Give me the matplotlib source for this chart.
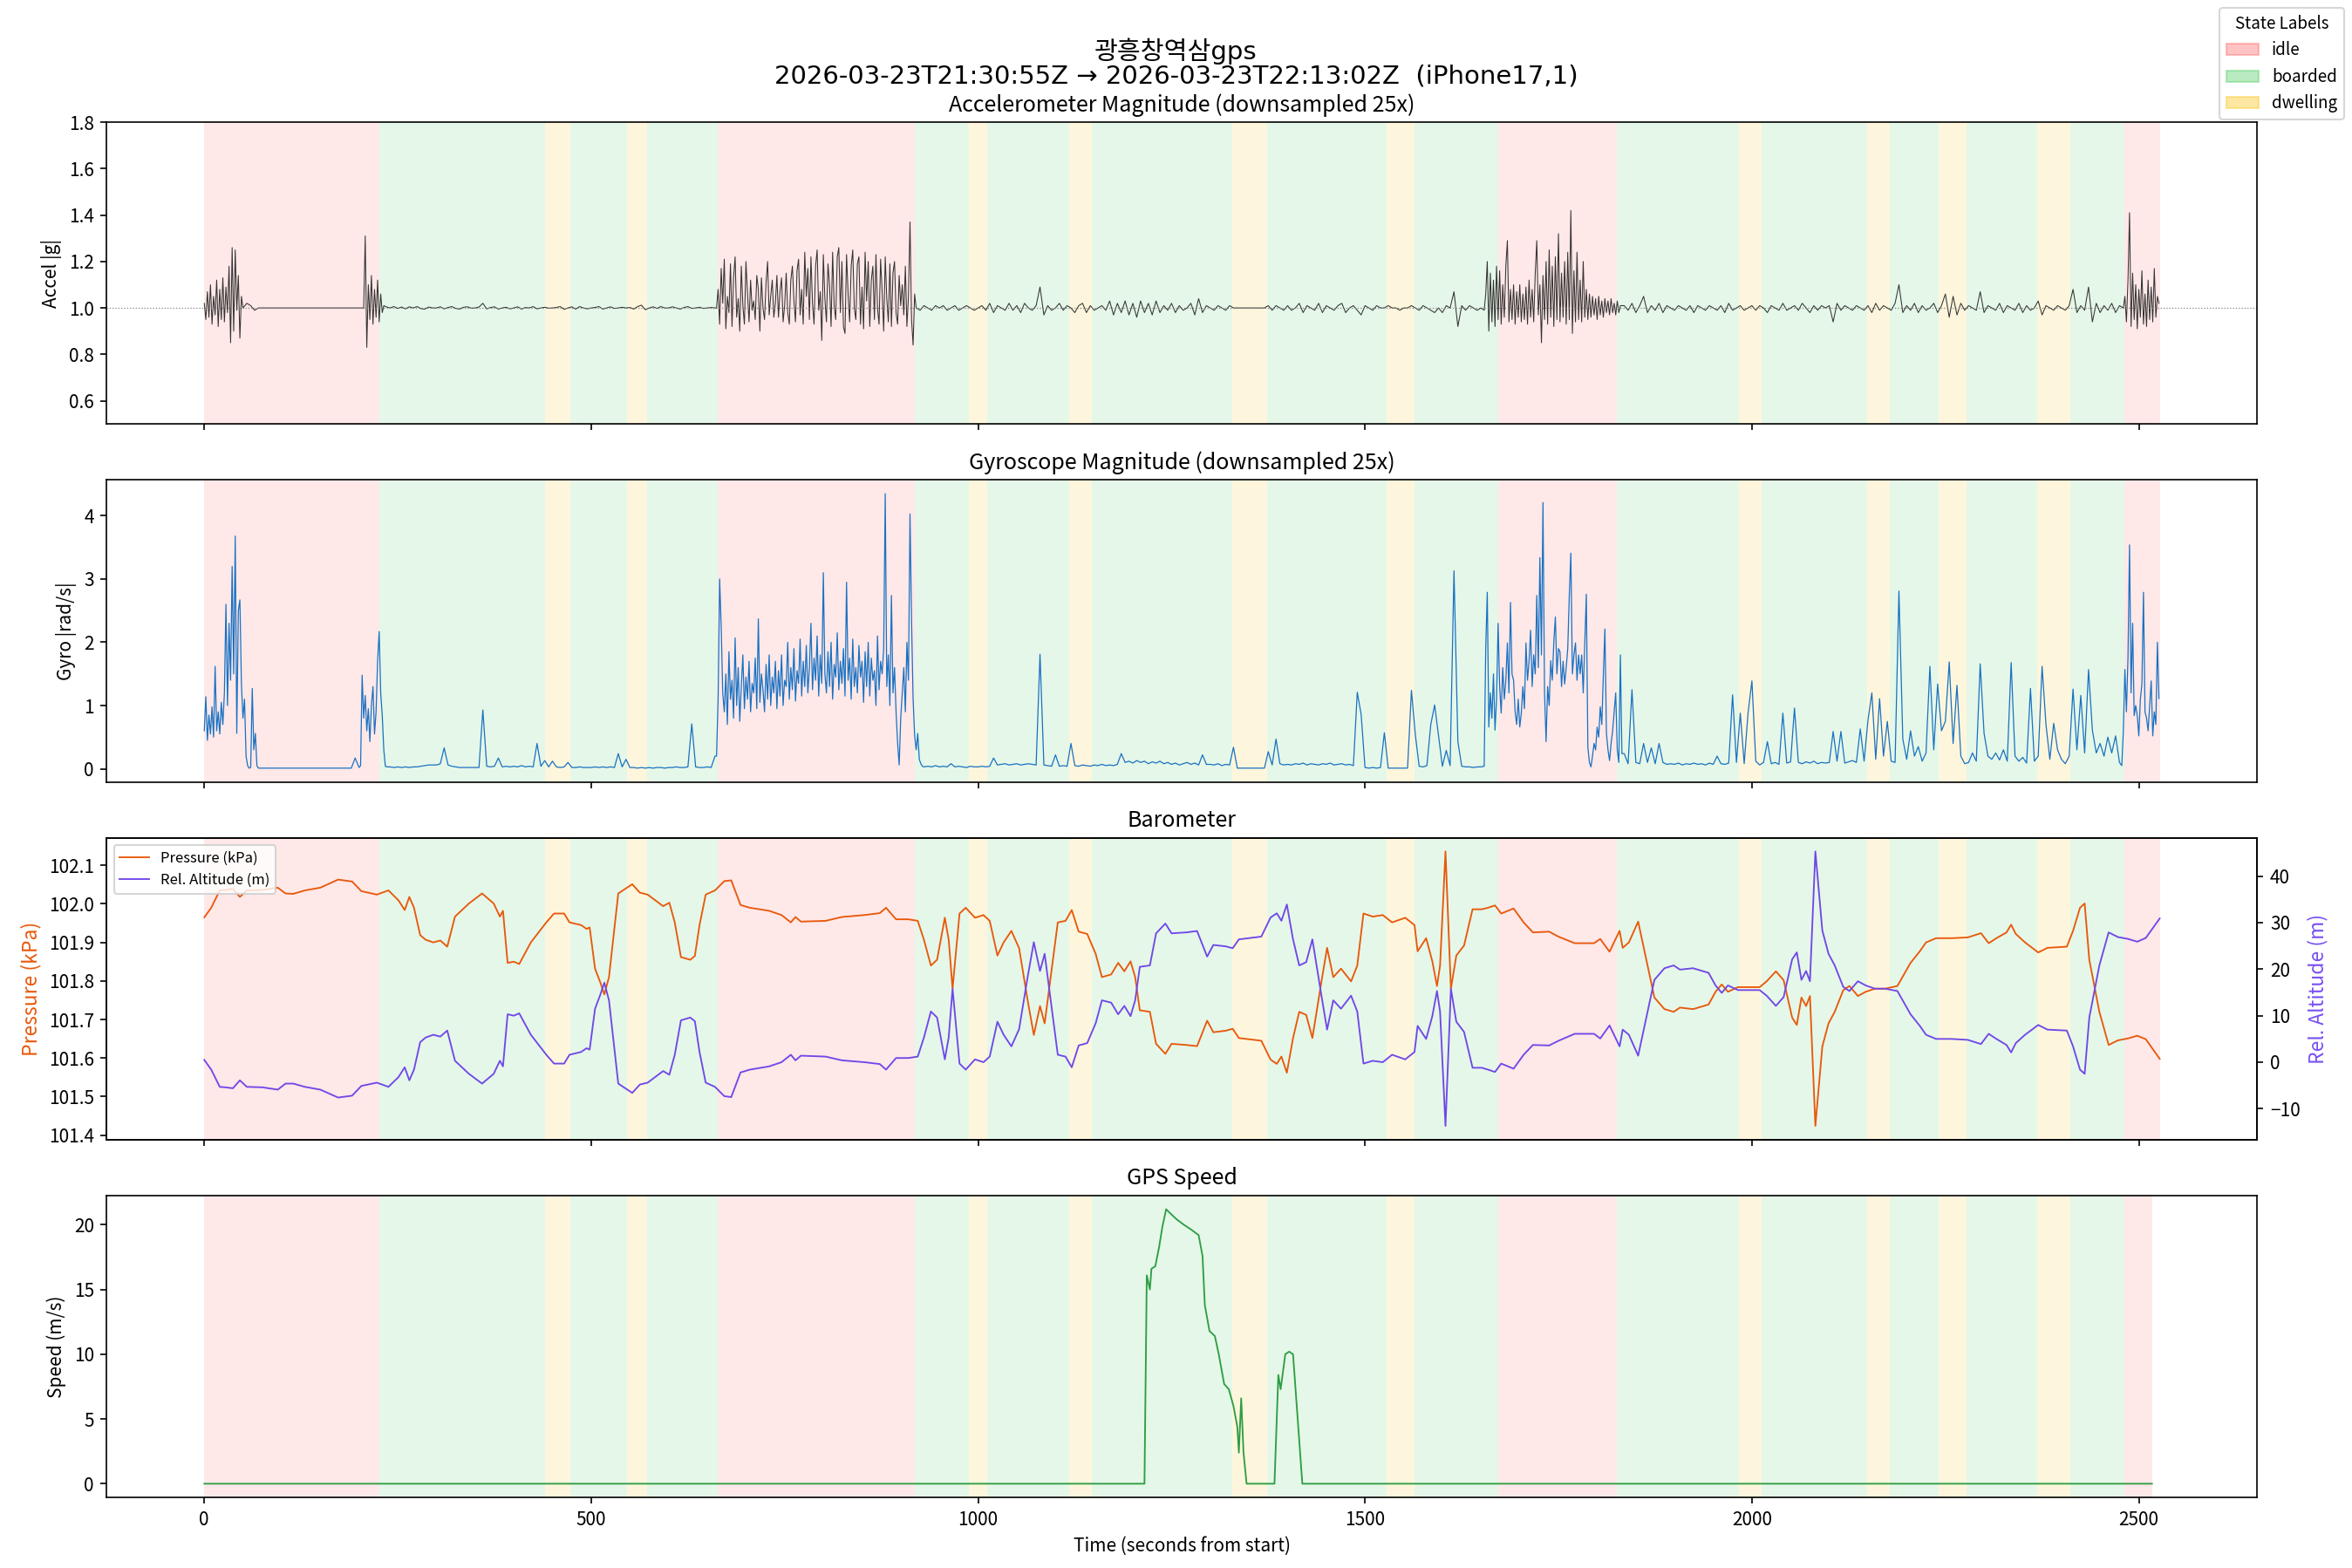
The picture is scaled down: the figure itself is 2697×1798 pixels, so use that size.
import numpy as np
import matplotlib
matplotlib.use("Agg")
import matplotlib.pyplot as plt
from matplotlib.patches import Patch

plt.rcParams['font.family'] = ['Noto Sans CJK KR', 'DejaVu Sans']

# state segments (seconds from start)
state_start = [0, 226, 362, 440, 473, 546, 572, 664, 918, 988, 1012, 1118, 1147, 1329,
               1374, 1528, 1564, 1672, 1826, 1983, 2012, 2149, 2178, 2241, 2277, 2369,
               2411, 2481]
state_label = ['idle', 'boarded', 'boarded', 'dwelling', 'boarded', 'dwelling', 'boarded',
               'idle', 'boarded', 'dwelling', 'boarded', 'dwelling', 'boarded', 'dwelling',
               'boarded', 'dwelling', 'boarded', 'idle', 'boarded', 'dwelling', 'boarded',
               'dwelling', 'boarded', 'dwelling', 'boarded', 'dwelling', 'boarded', 'idle']
t_end = 2527
gps_end = 2517

# accel |g|, one value every 5 s (noisy stretches are refined below)
accel_step = 5
accel_g = [
    1.02, 0.93, 1.12, 0.95, 1.08, 0.92, 1.15, 0.85, 1.26, 1.10, 0.87, 1.02, 1.01, 0.99, 1.00, 1.00, 1.00, 1.00, 1.00, 1.00,
    1.00, 1.00, 1.00, 1.00, 1.00, 1.00, 1.00, 1.00, 1.00, 1.00, 1.00, 1.00, 1.00, 1.00, 1.00, 1.00, 1.00, 1.00, 1.00, 1.00,
    1.00, 1.31, 0.83, 1.12, 0.92, 1.10, 0.96, 1.005, 1.00, 1.006, 0.998, 1.004, 0.996, 1.005, 1.00, 1.006, 0.997, 0.995, 1.004, 1.00,
    1.00, 1.005, 0.996, 1.002, 1.006, 0.998, 0.995, 1.003, 1.005, 0.999, 1.00, 1.004, 1.02, 0.996, 1.002, 1.005, 0.995, 1.00, 1.003, 0.996,
    1.00, 1.005, 0.995, 1.002, 1.00, 1.006, 0.996, 1.00, 1.003, 0.999, 1.00, 1.002, 1.006, 0.994, 1.00, 1.005, 0.995, 1.006, 1.00, 0.996,
    1.00, 1.002, 1.006, 0.995, 1.00, 1.005, 0.998, 1.00, 1.003, 1.00, 1.002, 0.995, 1.006, 1.012, 0.992, 1.00, 1.005, 0.998, 1.006, 1.00,
    1.00, 1.005, 1.00, 0.995, 1.002, 1.006, 0.998, 1.00, 1.003, 0.998, 1.00, 1.002, 1.00, 1.08, 0.92, 1.20, 0.95, 1.18, 0.90, 1.22,
    0.93, 1.15, 0.96, 1.12, 0.89, 1.10, 0.95, 1.14, 0.97, 1.13, 0.94, 1.20, 0.96, 1.24, 0.93, 1.16, 0.95, 1.22, 0.90, 1.19,
    0.86, 1.25, 0.94, 1.18, 0.96, 1.22, 0.89, 1.20, 0.95, 1.23, 0.93, 1.17, 0.97, 1.24, 0.90, 1.19, 0.94, 1.21, 0.92, 1.15,
    0.95, 1.18, 1.37, 0.84, 1.02, 0.99, 1.01, 1.00, 0.99, 1.01, 1.00, 1.01, 0.99, 1.00, 1.01, 0.99, 1.00, 1.01, 1.00, 0.99,
    1.00, 1.01, 0.99, 1.02, 0.98, 1.01, 1.00, 0.99, 1.02, 0.99, 1.01, 0.98, 1.02, 1.00, 0.99, 1.01, 1.09, 0.97, 1.01, 0.99,
    1.00, 1.02, 0.99, 1.01, 1.00, 0.98, 1.01, 1.02, 0.98, 1.01, 0.99, 1.00, 1.01, 0.99, 1.03, 0.97, 1.02, 0.98, 1.03, 0.97,
    1.02, 0.96, 1.03, 0.98, 1.02, 0.97, 1.03, 0.98, 1.01, 0.99, 1.02, 0.98, 1.01, 0.99, 1.00, 1.02, 0.97, 1.04, 0.98, 1.01,
    1.00, 0.99, 1.01, 1.00, 0.99, 1.01, 1.00, 1.00, 1.00, 1.00, 1.00, 1.00, 1.00, 1.00, 1.00, 1.01, 0.99, 1.01, 1.00, 0.99,
    1.01, 0.99, 1.00, 1.02, 0.98, 1.01, 1.00, 0.99, 1.02, 0.98, 1.01, 1.00, 0.99, 1.01, 1.02, 0.98, 1.00, 1.01, 0.99, 0.97,
    1.01, 1.00, 0.99, 1.01, 1.00, 1.00, 1.01, 1.00, 1.00, 0.99, 1.00, 1.00, 1.01, 1.00, 0.99, 1.01, 1.00, 0.99, 0.98, 1.00,
    0.98, 1.01, 1.00, 1.07, 0.92, 1.01, 0.99, 1.01, 1.00, 0.99, 1.00, 0.98, 1.20, 0.90, 1.18, 0.93, 1.17, 1.29, 0.94, 1.12,
    0.95, 1.10, 0.93, 1.14, 1.29, 0.85, 1.18, 0.92, 1.25, 0.95, 1.32, 0.94, 1.20, 1.42, 0.89, 1.24, 0.94, 1.08, 0.96, 1.06,
    0.95, 1.05, 0.96, 1.04, 0.97, 1.02, 0.98, 1.01, 0.99, 1.02, 0.98, 1.01, 1.05, 0.98, 1.01, 0.99, 1.02, 0.98, 1.01, 1.00,
    0.99, 1.01, 1.00, 0.99, 1.01, 0.98, 1.01, 1.00, 0.99, 1.01, 1.00, 0.99, 1.01, 0.98, 1.02, 0.99, 1.00, 1.01, 0.99, 1.00,
    1.01, 0.99, 1.01, 1.00, 0.98, 1.01, 1.00, 0.99, 1.02, 0.99, 1.00, 1.01, 0.99, 1.02, 1.00, 0.98, 1.01, 0.99, 1.01, 1.00,
    1.01, 0.94, 1.02, 0.99, 1.01, 1.00, 0.99, 1.01, 1.00, 0.99, 1.01, 0.98, 1.02, 0.99, 1.01, 1.00, 0.99, 1.02, 1.10, 0.98,
    1.01, 0.99, 1.02, 0.98, 1.01, 0.99, 1.00, 1.02, 0.98, 1.01, 1.06, 0.96, 1.05, 0.97, 1.02, 0.99, 1.01, 1.00, 0.99, 1.07,
    0.98, 1.01, 1.00, 0.99, 1.02, 0.98, 1.01, 1.00, 0.99, 1.02, 0.98, 1.01, 0.99, 1.00, 1.03, 0.97, 1.01, 1.00, 0.99, 1.01,
    1.00, 0.99, 1.01, 1.08, 0.98, 1.01, 0.99, 1.09, 0.94, 1.02, 0.98, 1.01, 0.99, 1.02, 0.98, 1.01, 0.99, 1.41, 0.92, 1.12,
    0.91, 1.15, 0.93, 1.08, 0.95, 1.10,
]

# accel noisy stretches, one value every 2 s from the given start
burst_step = 2
accel_burst_start = [0, 204, 662, 1654, 2480]
accel_burst_a = [1.02, 0.95, 1.07, 0.96, 1.10, 0.93, 1.05, 0.97, 1.12, 0.92, 1.08, 0.95, 1.13,
                 0.94, 1.09, 0.98, 1.18, 0.85, 1.26, 0.90, 1.25, 0.99, 1.14, 0.87, 1.05, 1.00]
accel_burst_b = [1.00, 1.00, 1.31, 0.83, 1.10, 0.95, 1.14, 0.93, 1.08, 0.96, 1.12, 0.94, 1.06, 0.98, 1.01]
accel_burst_c = [
    1.00, 1.08, 0.93, 1.17, 1.02, 1.21, 0.91, 1.05, 0.98, 1.19,
    0.92, 1.13, 1.22, 0.96, 1.04, 0.90, 1.18, 1.01, 0.93, 1.20,
    1.06, 0.94, 1.12, 0.99, 1.03, 0.95, 1.14, 1.08, 0.90, 1.13,
    1.00, 0.95, 1.11, 1.20, 0.97, 1.05, 1.12, 0.96, 1.02, 1.14,
    0.96, 1.07, 1.13, 0.94, 1.01, 1.15, 0.98, 0.93, 1.12, 1.18,
    1.03, 0.94, 1.16, 1.21, 0.97, 1.08, 0.93, 1.24, 1.05, 1.17,
    0.95, 1.22, 1.02, 0.93, 1.18, 1.25, 0.99, 1.07, 0.86, 1.23,
    1.04, 0.94, 1.19, 1.10, 0.92, 1.24, 1.01, 0.95, 1.22, 1.26,
    0.98, 1.20, 0.92, 0.89, 1.23, 1.06, 0.94, 1.18, 1.25, 1.00,
    0.95, 1.19, 1.22, 0.93, 1.09, 0.91, 1.24, 1.03, 1.20, 0.92,
    1.12, 1.18, 0.95, 1.23, 1.00, 0.93, 1.21, 1.07, 0.90, 1.22,
    1.04, 0.94, 1.19, 0.92, 1.15, 1.20, 0.98, 0.93, 1.14, 1.01,
    1.10, 0.97, 1.18, 0.92, 1.05, 1.37, 0.95, 0.84, 1.06, 1.00,
]
accel_burst_d = [
    0.99, 1.06, 1.20, 0.90, 1.15, 0.94, 1.12, 0.92, 1.18, 0.95,
    1.16, 0.93, 1.10, 0.96, 1.18, 1.29, 0.94, 1.08, 0.95, 1.10,
    0.93, 1.07, 0.96, 1.10, 0.94, 1.06, 0.95, 1.09, 0.93, 1.12,
    0.96, 1.08, 0.94, 1.15, 1.29, 0.97, 1.10, 0.85, 1.14, 0.95,
    1.20, 0.93, 1.25, 0.96, 1.18, 0.92, 1.22, 0.95, 1.32, 0.94,
    1.15, 0.96, 1.20, 0.93, 1.24, 0.95, 1.42, 0.89, 1.16, 0.94,
    1.24, 0.95, 1.12, 0.94, 1.20, 0.96, 1.08, 0.95, 1.06, 0.96,
    1.05, 0.97, 1.04, 0.95, 1.05, 0.97, 1.03, 0.96, 1.04, 0.98,
    1.03, 0.97, 1.04, 0.98, 1.02, 0.97, 1.03, 0.98, 1.01,
]
accel_burst_e = [1.00, 1.05, 0.94, 1.12, 1.41, 0.92, 1.15, 0.95, 1.10, 0.91, 1.08, 0.96,
                 1.16, 0.93, 1.06, 0.92, 1.12, 0.95, 1.09, 0.94, 1.17, 0.96, 1.05, 1.02]

# gyro |rad/s|, one value every 5 s (noisy stretches are refined below)
gyro_step = 5
gyro_rad = [
    1.14, 0.45, 0.90, 1.62, 0.55, 1.10, 2.60, 3.20, 3.68, 2.67, 0.80, 0.05, 1.27, 0.40, 0.01, 0.01, 0.01, 0.01, 0.01, 0.01,
    0.01, 0.01, 0.01, 0.01, 0.01, 0.01, 0.01, 0.01, 0.01, 0.01, 0.01, 0.01, 0.01, 0.01, 0.01, 0.01, 0.01, 0.01, 0.01, 0.17,
    0.02, 1.48, 0.90, 1.30, 0.60, 2.17, 0.84, 0.04, 0.03, 0.02, 0.03, 0.02, 0.03, 0.02, 0.03, 0.03, 0.04, 0.05, 0.06, 0.06,
    0.06, 0.08, 0.33, 0.06, 0.04, 0.03, 0.02, 0.02, 0.02, 0.02, 0.02, 0.02, 0.93, 0.04, 0.03, 0.04, 0.17, 0.03, 0.04, 0.03,
    0.04, 0.03, 0.05, 0.03, 0.04, 0.03, 0.40, 0.04, 0.13, 0.03, 0.12, 0.03, 0.02, 0.03, 0.10, 0.02, 0.02, 0.03, 0.02, 0.02,
    0.02, 0.03, 0.02, 0.03, 0.02, 0.03, 0.02, 0.24, 0.03, 0.15, 0.02, 0.02, 0.01, 0.02, 0.01, 0.02, 0.01, 0.02, 0.02, 0.01,
    0.02, 0.02, 0.03, 0.02, 0.02, 0.03, 0.71, 0.03, 0.02, 0.02, 0.03, 0.02, 0.20, 3.00, 1.90, 1.20, 1.85, 0.80, 2.07, 1.00,
    1.45, 1.10, 1.70, 2.37, 0.95, 1.60, 1.20, 1.75, 0.90, 1.50, 1.30, 2.00, 1.07, 1.65, 1.25, 1.85, 1.10, 2.30, 1.40, 1.70,
    3.10, 1.20, 1.80, 1.05, 1.60, 1.30, 2.95, 1.15, 1.90, 1.35, 2.20, 1.00, 1.75, 1.45, 2.10, 1.25, 4.35, 1.10, 2.74, 1.30,
    0.30, 1.60, 4.03, 2.35, 0.52, 0.56, 0.15, 0.04, 0.03, 0.05, 0.03, 0.04, 0.03, 0.08, 0.03, 0.04, 0.03, 0.02, 0.04, 0.03,
    0.03, 0.04, 0.03, 0.04, 0.17, 0.06, 0.07, 0.08, 0.06, 0.07, 0.08, 0.06, 0.07, 0.08, 0.07, 0.06, 1.81, 0.06, 0.05, 0.04,
    0.22, 0.04, 0.05, 0.04, 0.40, 0.05, 0.04, 0.06, 0.05, 0.04, 0.06, 0.05, 0.07, 0.05, 0.06, 0.05, 0.07, 0.24, 0.10, 0.12,
    0.09, 0.13, 0.10, 0.12, 0.08, 0.11, 0.09, 0.12, 0.08, 0.10, 0.07, 0.09, 0.06, 0.08, 0.10, 0.07, 0.09, 0.06, 0.22, 0.07,
    0.07, 0.06, 0.08, 0.05, 0.07, 0.06, 0.34, 0.01, 0.01, 0.01, 0.01, 0.01, 0.01, 0.01, 0.01, 0.27, 0.06, 0.47, 0.08, 0.06,
    0.07, 0.06, 0.08, 0.07, 0.09, 0.06, 0.08, 0.07, 0.06, 0.08, 0.07, 0.09, 0.06, 0.07, 0.08, 0.06, 0.07, 0.05, 1.21, 0.86,
    0.02, 0.01, 0.02, 0.01, 0.02, 0.57, 0.01, 0.01, 0.01, 0.01, 0.01, 0.01, 1.24, 0.54, 0.04, 0.03, 0.05, 0.70, 1.01, 0.52,
    0.04, 0.29, 0.05, 3.13, 0.43, 0.04, 0.03, 0.03, 0.02, 0.03, 0.03, 1.90, 2.79, 0.61, 2.30, 0.88, 1.99, 2.63, 1.40, 0.75,
    0.70, 0.88, 1.99, 1.30, 2.74, 1.60, 4.21, 0.43, 1.71, 2.40, 1.20, 1.85, 1.34, 3.41, 1.50, 2.00, 1.80, 2.76, 0.03, 0.35,
    0.66, 0.98, 2.21, 0.13, 1.20, 0.10, 1.80, 0.24, 0.08, 1.25, 0.10, 0.08, 0.40, 0.10, 0.33, 0.08, 0.40, 0.10, 0.07, 0.08,
    0.07, 0.09, 0.06, 0.08, 0.07, 0.09, 0.07, 0.08, 0.06, 0.09, 0.07, 0.20, 0.08, 0.07, 0.09, 1.17, 0.10, 0.88, 0.08, 0.88,
    1.39, 0.12, 0.06, 0.10, 0.43, 0.08, 0.10, 0.07, 0.88, 0.09, 0.11, 0.96, 0.10, 0.08, 0.11, 0.09, 0.12, 0.08, 0.10, 0.09,
    0.10, 0.59, 0.12, 0.59, 0.09, 0.11, 0.13, 0.10, 0.63, 0.12, 0.77, 1.20, 0.15, 1.11, 0.20, 0.75, 0.12, 0.10, 2.81, 0.47,
    0.15, 0.60, 0.20, 0.35, 0.12, 0.25, 1.62, 0.30, 1.34, 0.60, 0.75, 1.69, 0.40, 1.32, 0.20, 0.08, 0.10, 0.25, 0.12, 1.66,
    0.56, 0.20, 0.15, 0.25, 0.14, 0.30, 0.12, 1.68, 0.20, 0.12, 0.18, 0.09, 1.27, 0.12, 0.20, 1.62, 0.70, 0.15, 0.72, 0.30,
    0.15, 0.08, 0.20, 1.26, 0.30, 1.16, 0.25, 1.57, 0.61, 0.25, 0.40, 0.20, 0.50, 0.25, 0.52, 0.10, 1.57, 3.54, 2.30, 0.84,
    0.52, 2.79, 0.80, 1.39, 2.00, 1.11,
]

gyro_burst_start = [0, 200, 662, 1654, 2478]
gyro_burst_a = [0.60, 1.14, 0.45, 0.85, 0.55, 0.98, 0.50, 1.62, 0.60, 0.90, 0.55, 1.05, 0.70,
                1.20, 2.60, 1.00, 2.30, 1.40, 3.20, 1.50, 3.68, 0.56, 2.50, 2.67, 1.34, 0.80,
                1.10, 0.20, 0.05, 0.01, 0.02, 1.27, 0.30, 0.56, 0.05, 0.01, 0.01]
gyro_burst_b = [0.02, 0.05, 1.48, 0.80, 1.16, 0.60, 0.95, 0.43, 1.00, 1.30, 0.55, 0.90, 1.71,
                2.17, 1.20, 0.84, 0.30, 0.04, 0.03]
gyro_burst_c = [
    0.20, 1.10, 3.00, 2.25, 1.20, 0.90, 1.50, 0.70, 1.85, 1.10,
    1.40, 0.80, 2.07, 1.00, 1.60, 0.75, 1.30, 1.80, 0.95, 1.45,
    1.10, 1.70, 0.90, 1.35, 1.20, 1.75, 0.95, 2.37, 1.05, 1.50,
    1.25, 0.90, 1.65, 1.10, 1.80, 1.00, 1.45, 1.20, 1.70, 0.95,
    1.55, 1.15, 1.80, 1.00, 1.40, 1.30, 2.00, 1.10, 1.60, 1.25,
    1.90, 1.07, 1.55, 1.35, 2.05, 1.15, 1.70, 1.30, 1.95, 1.20,
    1.60, 2.30, 1.25, 1.75, 1.40, 2.10, 1.15, 1.80, 1.35, 3.10,
    1.50, 1.20, 1.85, 1.30, 2.00, 1.10, 1.65, 1.45, 2.15, 1.25,
    1.70, 1.35, 1.90, 1.15, 2.95, 1.40, 1.75, 1.10, 2.05, 1.30,
    1.60, 1.20, 1.95, 1.45, 1.70, 1.05, 1.85, 1.30, 2.00, 1.15,
    1.75, 1.40, 1.55, 1.00, 2.10, 1.25, 1.70, 1.50, 1.90, 4.35,
    1.30, 1.80, 1.00, 2.74, 1.20, 1.60, 0.90, 0.40, 0.06, 0.80,
    1.20, 1.60, 0.90, 2.00, 1.40, 4.03, 2.35, 1.10, 0.52, 0.30,
    0.56, 0.15, 0.08, 0.04, 0.03,
]
gyro_burst_d = [
    0.04, 1.90, 2.79, 0.66, 1.20, 0.80, 1.50, 0.61, 1.10, 2.30,
    1.30, 0.88, 1.60, 1.10, 1.40, 1.99, 1.20, 2.63, 1.50, 1.40,
    0.90, 0.70, 1.10, 0.66, 0.88, 1.30, 0.95, 1.99, 1.40, 1.70,
    2.19, 1.30, 1.80, 1.50, 2.74, 1.60, 3.34, 1.80, 4.21, 1.20,
    0.43, 1.30, 1.00, 1.71, 1.40, 2.00, 2.40, 1.50, 1.90, 1.85,
    1.30, 1.70, 1.34, 1.60, 1.90, 2.74, 3.41, 1.50, 1.80, 1.99,
    1.40, 1.80, 1.50, 1.80, 1.20, 2.00, 2.76, 0.34, 0.10, 0.03,
    0.20, 0.40, 0.30, 0.66, 0.50, 0.98, 0.70, 1.48, 2.21, 0.56,
    0.30, 0.13, 0.40, 0.60, 0.90, 1.20, 0.30, 0.10, 1.80, 0.24,
]
gyro_burst_e = [0.05, 0.60, 1.57, 0.90, 1.76, 3.54, 1.20, 2.30, 0.84, 1.00, 0.84, 0.52, 1.10,
                1.34, 2.79, 0.90, 0.80, 0.60, 1.00, 1.39, 0.52, 0.90, 0.70, 2.00, 1.11]

# barometer
baro_t = [0, 9, 20, 27, 37, 46, 55, 75, 95, 105, 115, 130, 150, 173, 191, 203, 223, 238, 251, 259,
          265, 271, 279, 286, 296, 305, 314, 324, 342, 359, 374, 382, 386, 392, 400, 407, 422, 442, 452, 465,
          472, 487, 494, 498, 505, 512, 517, 523, 535, 553, 563, 573, 593, 601, 608, 616, 628, 634, 640, 648,
          660, 672, 681, 693, 705, 730, 746, 758, 764, 771, 803, 824, 853, 873, 881, 894, 910, 922, 930, 939,
          947, 957, 962, 967, 976, 984, 996, 1007, 1015, 1025, 1033, 1043, 1053, 1064, 1072, 1080, 1086, 1103, 1113, 1121,
          1130, 1141, 1152, 1160, 1172, 1181, 1189, 1197, 1203, 1209, 1222, 1230, 1242, 1250, 1269, 1283, 1296, 1304, 1320, 1329,
          1337, 1366, 1378, 1386, 1392, 1399, 1407, 1415, 1424, 1432, 1444, 1451, 1459, 1469, 1482, 1490, 1498, 1510, 1523, 1535,
          1552, 1564, 1568, 1579, 1587, 1593, 1597, 1604, 1611, 1618, 1628, 1639, 1651, 1659, 1668, 1676, 1692, 1705, 1717, 1738,
          1750, 1771, 1796, 1804, 1816, 1829, 1833, 1841, 1853, 1862, 1874, 1887, 1899, 1907, 1924, 1944, 1953, 1961, 1969, 1982,
          2010, 2019, 2031, 2041, 2052, 2058, 2064, 2070, 2075, 2082, 2091, 2099, 2107, 2118, 2126, 2137, 2147, 2159, 2172, 2188,
          2205, 2217, 2225, 2238, 2258, 2279, 2296, 2306, 2316, 2329, 2335, 2341, 2353, 2370, 2382, 2407, 2415, 2424, 2430, 2436,
          2449, 2461, 2473, 2486, 2498, 2509, 2527]
pressure_kpa = [101.965, 101.990, 102.035, 102.036, 102.039, 102.018, 102.035, 102.036, 102.042, 102.027,
                102.026, 102.035, 102.042, 102.063, 102.058, 102.033, 102.024, 102.035, 102.009, 101.984,
                102.018, 101.990, 101.919, 101.907, 101.900, 101.905, 101.889, 101.967, 102.001, 102.027,
                102.001, 101.967, 101.982, 101.847, 101.850, 101.844, 101.900, 101.952, 101.975, 101.975,
                101.952, 101.945, 101.935, 101.939, 101.832, 101.795, 101.765, 101.810, 102.027, 102.051,
                102.029, 102.024, 101.994, 102.003, 101.952, 101.862, 101.855, 101.865, 101.945, 102.024,
                102.035, 102.059, 102.061, 101.997, 101.990, 101.982, 101.971, 101.952, 101.966, 101.954,
                101.956, 101.966, 101.971, 101.976, 101.990, 101.960, 101.960, 101.956, 101.907, 101.840,
                101.855, 101.964, 101.907, 101.780, 101.975, 101.990, 101.964, 101.971, 101.956, 101.866,
                101.900, 101.930, 101.885, 101.750, 101.660, 101.735, 101.690, 101.952, 101.956, 101.984,
                101.928, 101.922, 101.870, 101.810, 101.817, 101.847, 101.825, 101.851, 101.810, 101.724,
                101.720, 101.637, 101.611, 101.637, 101.634, 101.631, 101.697, 101.667, 101.671, 101.676,
                101.652, 101.645, 101.596, 101.585, 101.604, 101.562, 101.652, 101.720, 101.712, 101.652,
                101.802, 101.886, 101.810, 101.832, 101.799, 101.840, 101.975, 101.967, 101.971, 101.952,
                101.964, 101.945, 101.877, 101.911, 101.851, 101.787, 101.840, 102.136, 101.780, 101.866,
                101.892, 101.986, 101.986, 101.990, 101.996, 101.975, 101.988, 101.952, 101.926, 101.928,
                101.915, 101.898, 101.898, 101.909, 101.876, 101.930, 101.886, 101.900, 101.954, 101.870,
                101.757, 101.727, 101.720, 101.731, 101.727, 101.739, 101.772, 101.791, 101.772, 101.784,
                101.784, 101.799, 101.825, 101.802, 101.705, 101.686, 101.757, 101.735, 101.761, 101.424,
                101.630, 101.690, 101.720, 101.776, 101.787, 101.761, 101.772, 101.780, 101.780, 101.787,
                101.847, 101.877, 101.900, 101.911, 101.911, 101.913, 101.924, 101.898, 101.911, 101.926,
                101.946, 101.922, 101.900, 101.874, 101.886, 101.889, 101.930, 101.990, 102.001, 101.855,
                101.720, 101.634, 101.646, 101.651, 101.658, 101.649, 101.598]
rel_alt_m = [0.5, -1.6, -5.3, -5.4, -5.6, -3.9, -5.3, -5.4, -5.9, -4.6,
             -4.6, -5.3, -5.9, -7.6, -7.2, -5.1, -4.4, -5.3, -3.2, -1.1,
             -3.9, -1.6, 4.3, 5.3, 5.9, 5.5, 6.8, 0.3, -2.5, -4.6,
             -2.5, 0.3, -0.9, 10.3, 10.0, 10.5, 5.9, 1.6, -0.3, -0.3,
             1.6, 2.2, 3.0, 2.7, 11.5, 14.6, 17.1, 13.3, -4.6, -6.6,
             -4.8, -4.4, -1.9, -2.7, 1.6, 9.0, 9.6, 8.8, 2.2, -4.4,
             -5.3, -7.3, -7.5, -2.2, -1.6, -0.9, 0.0, 1.6, 0.4, 1.4,
             1.2, 0.4, 0.0, -0.4, -1.6, 0.9, 0.9, 1.2, 5.3, 10.9,
             9.6, 0.6, 5.3, 15.8, -0.3, -1.6, 0.6, 0.0, 1.2, 8.7,
             5.9, 3.4, 7.1, 18.3, 25.8, 19.6, 23.3, 1.6, 1.2, -1.1,
             3.6, 4.1, 8.4, 13.3, 12.8, 10.3, 12.1, 9.9, 13.3, 20.5,
             20.8, 27.7, 29.8, 27.7, 27.9, 28.2, 22.7, 25.2, 24.9, 24.5,
             26.4, 27.0, 31.1, 32.0, 30.4, 33.9, 26.4, 20.8, 21.5, 26.4,
             14.0, 7.0, 13.3, 11.5, 14.3, 10.9, -0.3, 0.3, 0.0, 1.6,
             0.6, 2.2, 7.8, 5.0, 9.9, 15.3, 10.9, -13.7, 15.8, 8.7,
             6.5, -1.2, -1.2, -1.6, -2.1, -0.3, -1.4, 1.6, 3.7, 3.6,
             4.6, 6.1, 6.1, 5.1, 7.9, 3.4, 7.0, 5.9, 1.4, 8.4,
             17.7, 20.2, 20.8, 19.9, 20.2, 19.2, 16.5, 14.9, 16.5, 15.5,
             15.5, 14.3, 12.1, 14.0, 22.1, 23.6, 17.7, 19.6, 17.4, 45.3,
             28.3, 23.3, 20.8, 16.2, 15.3, 17.4, 16.5, 15.8, 15.8, 15.3,
             10.3, 7.8, 5.9, 5.0, 5.0, 4.8, 3.9, 6.1, 5.0, 3.7,
             2.1, 4.1, 5.9, 8.0, 7.0, 6.8, 3.4, -1.6, -2.5, 9.6,
             20.8, 27.9, 26.9, 26.5, 25.9, 26.7, 30.9]

# GPS speed
speed_t = [0, 1215, 1218, 1222, 1224, 1229, 1234, 1238, 1243, 1248,
           1257, 1266, 1276, 1285, 1290, 1293, 1299, 1306, 1311, 1318,
           1324, 1330, 1335, 1337, 1340, 1343, 1347, 1383, 1388, 1391,
           1397, 1402, 1407, 1419, 2517]
speed_ms = [0, 0, 16.1, 15.0, 16.6, 16.8, 18.3, 19.8, 21.2, 20.9,
            20.4, 20.0, 19.6, 19.2, 17.6, 13.8, 11.8, 11.4, 10.0, 7.7,
            7.3, 6.0, 4.4, 2.4, 6.6, 2.4, 0, 0, 8.4, 7.3,
            10.0, 10.2, 10.0, 0, 0]

state_colors = {'idle': '#ff6b6b', 'boarded': '#51cf66', 'dwelling': '#fcc419'}


def merge(base, step, starts, bursts):
    # coarse samples, with the finer bursts put in place of them
    t = np.arange(len(base)) * step
    v = np.asarray(base, float)
    keep = np.ones(len(t), bool)
    ts, vs = [], []
    for s, b in zip(starts, bursts):
        bt = s + burst_step * np.arange(len(b))
        keep &= ~((t >= bt[0]) & (t <= bt[-1]))
        ts.append(bt)
        vs.append(np.asarray(b, float))
    t = np.concatenate([t[keep]] + ts)
    v = np.concatenate([v[keep]] + vs)
    order = np.argsort(t, kind='stable')
    return t[order], v[order]


def shade(ax, stop):
    ends = state_start[1:] + [t_end]
    for s, e, lab in zip(state_start, ends, state_label):
        e = min(e, stop)
        if s < e:
            ax.axvspan(s, e, color=state_colors[lab], alpha=0.15, lw=0, zorder=0)


fig, axes = plt.subplots(4, 1, sharex=True, figsize=(2697 / 150, 1798 / 150), dpi=150)
fig.subplots_adjust(left=0.0454, right=0.9597, top=0.9221, bottom=0.045, hspace=0.185)

# accelerometer
ax = axes[0]
shade(ax, t_end)
at, av = merge(accel_g, accel_step, accel_burst_start,
               [accel_burst_a, accel_burst_b, accel_burst_c, accel_burst_d, accel_burst_e])
ax.plot(at, av, color='#333333', lw=0.5)
ax.axhline(1.0, color='gray', ls=':', lw=0.6)
ax.set_ylim(0.5, 1.8)
ax.set_ylabel('Accel |g|')
ax.set_title('Accelerometer Magnitude (downsampled 25x)')

# gyroscope
ax = axes[1]
shade(ax, t_end)
gt, gv = merge(gyro_rad, gyro_step, gyro_burst_start,
               [gyro_burst_a, gyro_burst_b, gyro_burst_c, gyro_burst_d, gyro_burst_e])
ax.plot(gt, gv, color='#1971c2', lw=0.6)
ax.set_ylabel('Gyro |rad/s|')
ax.set_title('Gyroscope Magnitude (downsampled 25x)')

# barometer
ax = axes[2]
shade(ax, t_end)
l1, = ax.plot(baro_t, pressure_kpa, color='#e8590c', lw=0.9, label='Pressure (kPa)')
ax.set_ylabel('Pressure (kPa)', color='#e8590c', fontsize=11)
ax2 = ax.twinx()
l2, = ax2.plot(baro_t, rel_alt_m, color='#7048e8', lw=0.9, label='Rel. Altitude (m)')
ax2.set_ylabel('Rel. Altitude (m)', color='#7950f2', fontsize=11)
ax.legend([l1, l2], [l1.get_label(), l2.get_label()], loc='upper left', fontsize=8)
ax.set_title('Barometer')

# gps
ax = axes[3]
shade(ax, gps_end)
ax.plot(speed_t, speed_ms, color='#2f9e44', lw=0.9)
ax.set_ylabel('Speed (m/s)')
ax.set_title('GPS Speed')
ax.set_xlabel('Time (seconds from start)')
ax.set_xlim(-126, 2653)

fig.suptitle('광흥창역삼gps\n2026-03-23T21:30:55Z → 2026-03-23T22:13:02Z  (iPhone17,1)',
             y=0.976, fontsize=14, linespacing=1.0, family=['DejaVu Sans', 'Noto Sans CJK KR'])

handles = [Patch(color=state_colors[k], alpha=0.4, label=k) for k in ['idle', 'boarded', 'dwelling']]
fig.legend(handles=handles, title='State Labels', loc='upper right', fontsize=9, title_fontsize=9)

fig.savefig('out.png', dpi=150)
